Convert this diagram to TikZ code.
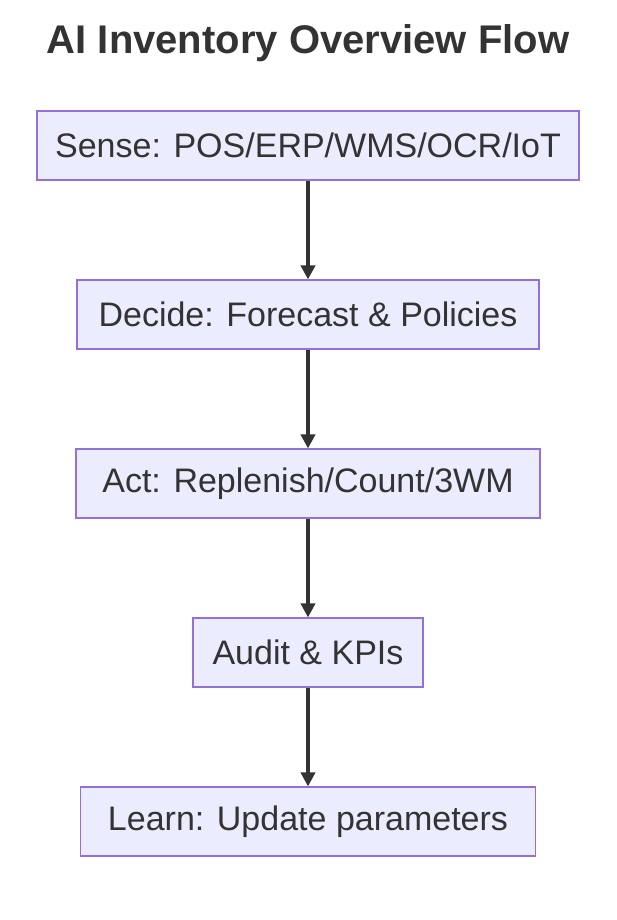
\documentclass[tikz,border=0pt]{standalone}
\usepackage{fontspec}
\setmainfont{Liberation Sans}
\usetikzlibrary{arrows.meta}
\definecolor{boxfill}{HTML}{ECECFF}
\definecolor{boxline}{HTML}{9370DB}
\definecolor{ink}{HTML}{333333}
\begin{document}
\begin{tikzpicture}[x=1pt,y=-1pt,
  box/.style={draw=boxline,fill=boxfill,line width=1.1pt,minimum height=69pt,inner sep=0pt,text=ink,font=\fontsize{34}{40}\selectfont},
  arr/.style={draw=ink,line width=4.5pt,-{Triangle[length=14pt,width=14pt]}}]
\useasboundingbox (0,0) rectangle (616,920);
\node[text=ink,font=\bfseries\fontsize{40}{46}\selectfont] (t) at (308,43) {AI Inventory Overview Flow};
\node[box,minimum width=542pt] (a) at (308,145.5) {Sense: POS/ERP/WMS/OCR/IoT};
\node[box,minimum width=462pt] (b) at (308,314.5) {Decide: Forecast \& Policies};
\node[box,minimum width=464pt] (c) at (308,483.5) {Act: Replenish/Count/3WM};
\node[box,minimum width=230pt] (d) at (308,652.5) {Audit \& KPIs};
\node[box,minimum width=455pt] (e) at (308,821.5) {Learn: Update parameters};
\draw[arr] (a) -- (b);
\draw[arr] (b) -- (c);
\draw[arr] (c) -- (d);
\draw[arr] (d) -- (e);
\end{tikzpicture}
\end{document}
